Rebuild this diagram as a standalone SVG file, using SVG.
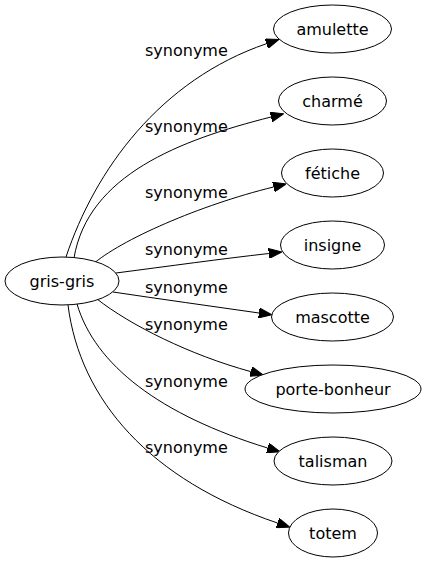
<svg xmlns="http://www.w3.org/2000/svg" width="426" height="563" viewBox="0 0 426 563">
<style>
.bg{fill:#fff}
.node ellipse{fill:#fff;stroke:#000;stroke-width:1}
.node text{font-family:"DejaVu Sans",sans-serif;font-size:16px;fill:#000;text-anchor:middle}
.edge path{fill:none;stroke:#000;stroke-width:1}
.lbl{font-family:"DejaVu Sans",sans-serif;font-size:16px;fill:#000}
</style>
<defs>
<marker id="arr" viewBox="0 0 13 10" refX="0" refY="5" markerWidth="13" markerHeight="10" markerUnits="userSpaceOnUse" orient="auto">
<path d="M0,0 L13,5 L0,10 z" fill="#000" stroke="#000" stroke-width="1"/>
</marker>
</defs>
<rect class="bg" width="426" height="563"/>
<g id="connectors">
<g class="edge"><path d="M66,257 C95,170 160,80 266.5,43.7" marker-end="url(#arr)"/><text class="lbl" x="145" y="56">synonyme</text></g>
<g class="edge"><path d="M74,258 C88,175 180,140 271,117" marker-end="url(#arr)"/><text class="lbl" x="145" y="132">synonyme</text></g>
<g class="edge"><path d="M92,265 C120,240 200,205 273.5,187" marker-end="url(#arr)"/><text class="lbl" x="145" y="198">synonyme</text></g>
<g class="edge"><path d="M116,273 C170,266 220,259 268.8,253.5" marker-end="url(#arr)"/><text class="lbl" x="145" y="255">synonyme</text></g>
<g class="edge"><path d="M113,292 C160,299 210,306 259,313" marker-end="url(#arr)"/><text class="lbl" x="145" y="293">synonyme</text></g>
<g class="edge"><path d="M97,299 C130,325 190,355 250.7,371.6" marker-end="url(#arr)"/><text class="lbl" x="145" y="330">synonyme</text></g>
<g class="edge"><path d="M77,304 C95,365 160,415 267.6,448" marker-end="url(#arr)"/><text class="lbl" x="145" y="387">synonyme</text></g>
<g class="edge"><path d="M68,305 C80,400 150,480 277.5,523" marker-end="url(#arr)"/><text class="lbl" x="145" y="453">synonyme</text></g>
</g>
<g id="n-gris-gris" class="node"><ellipse cx="62" cy="281" rx="57" ry="24"/><text x="62" y="287">gris-gris</text></g>
<g id="n-amulette" class="node"><ellipse cx="332.5" cy="29" rx="59" ry="24"/><text x="332.5" y="35">amulette</text></g>
<g id="n-charme" class="node"><ellipse cx="332.5" cy="101" rx="54" ry="24"/><text x="332.5" y="107">charmé</text></g>
<g id="n-fetiche" class="node"><ellipse cx="332.5" cy="173" rx="51" ry="24"/><text x="332.5" y="179">fétiche</text></g>
<g id="n-insigne" class="node"><ellipse cx="332.5" cy="245" rx="52" ry="24"/><text x="332.5" y="251">insigne</text></g>
<g id="n-mascotte" class="node"><ellipse cx="332.5" cy="317" rx="61" ry="24"/><text x="332.5" y="323">mascotte</text></g>
<g id="n-porte-bonheur" class="node"><ellipse cx="333" cy="389" rx="88" ry="24"/><text x="333" y="395">porte-bonheur</text></g>
<g id="n-talisman" class="node"><ellipse cx="333" cy="461" rx="59" ry="24"/><text x="333" y="467">talisman</text></g>
<g id="n-totem" class="node"><ellipse cx="333" cy="533" rx="44.5" ry="24"/><text x="333" y="539">totem</text></g>
</svg>
